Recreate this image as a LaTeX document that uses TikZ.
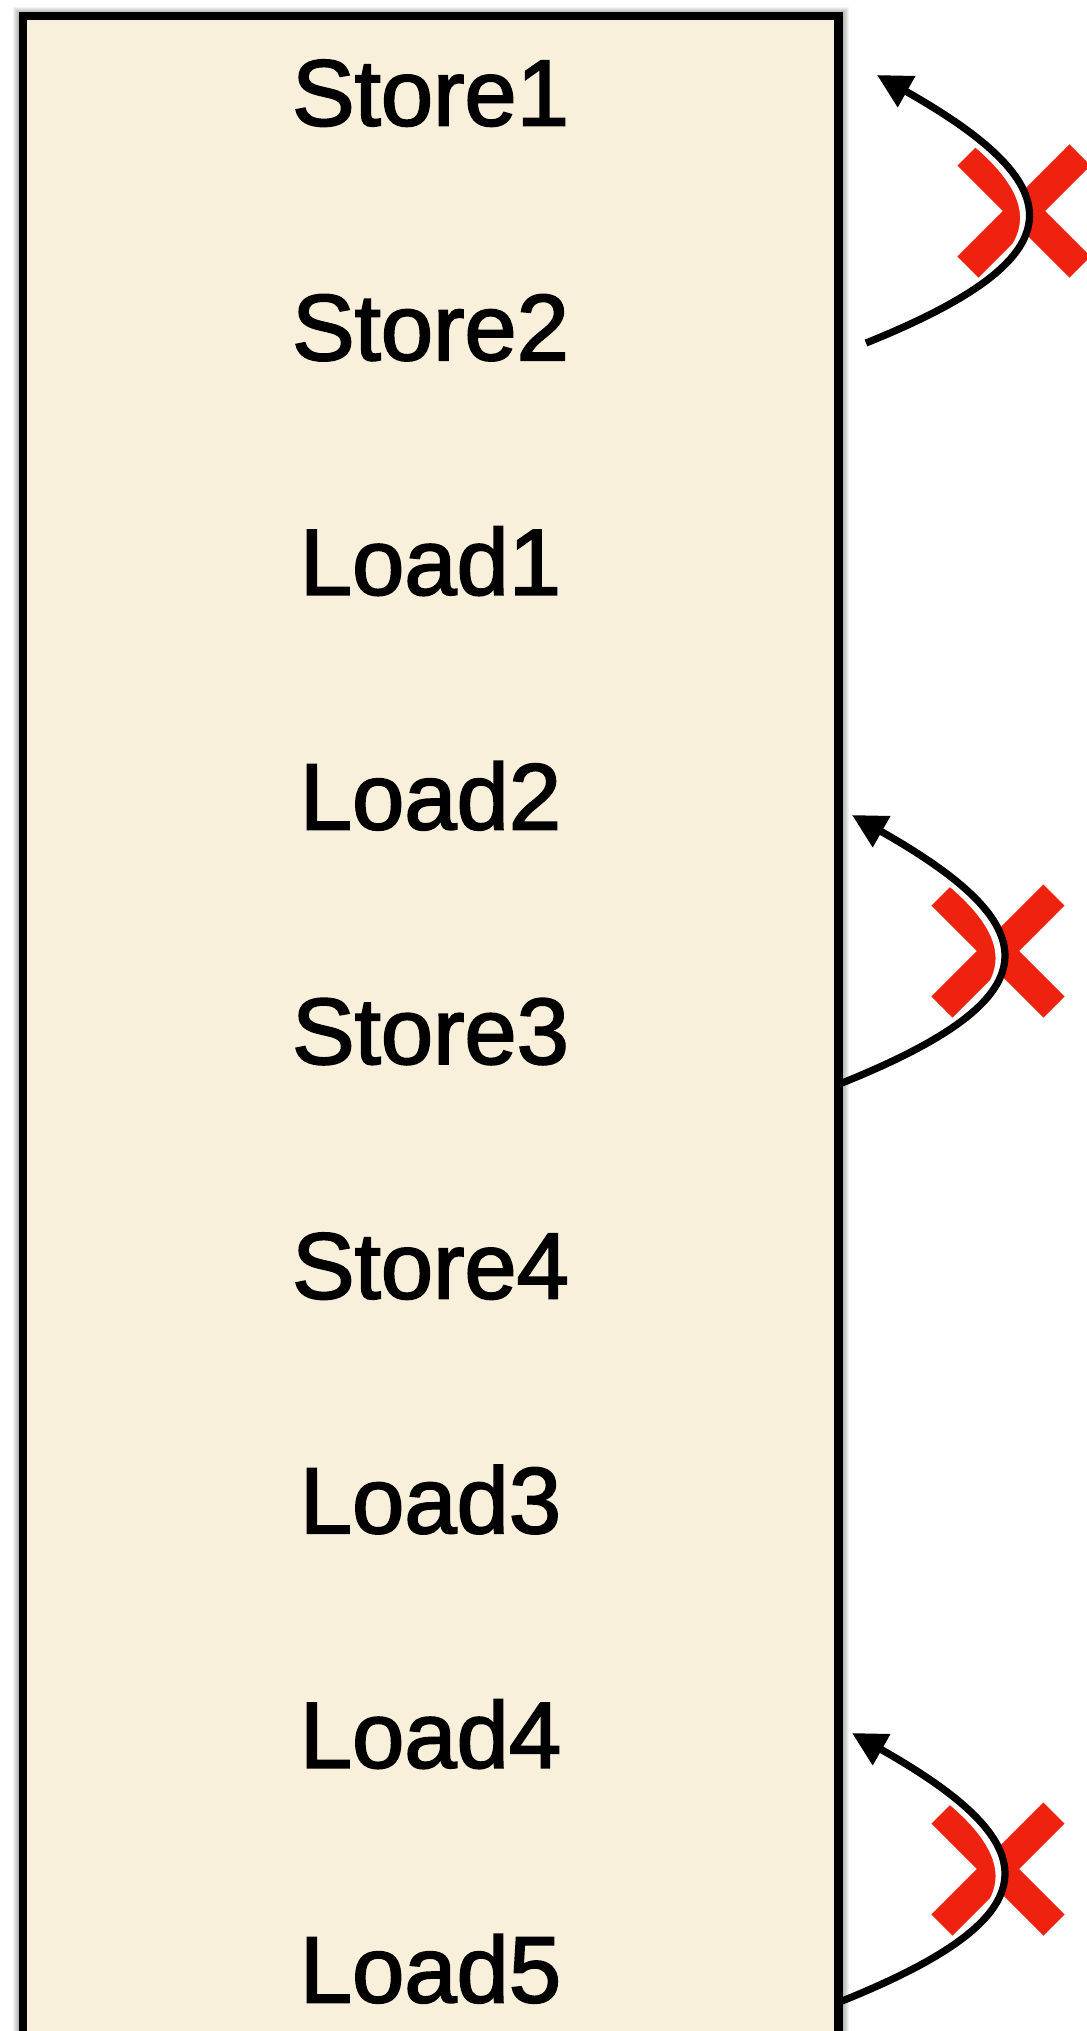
\documentclass[tikz,border=0pt]{standalone}
\usepackage{fontspec}
\setmainfont{Liberation Sans}
\newfontfamily\lblfont[RawFeature={embolden=2}]{Liberation Sans}
\usetikzlibrary{arrows.meta}
\definecolor{cream}{RGB}{249,240,219}
\definecolor{xred}{RGB}{238,34,14}
\begin{document}
\begin{tikzpicture}[x=0.5pt,y=-0.5pt,
  lbl/.style={anchor=base, font=\lblfont\fontsize{47}{56}\selectfont, inner sep=0pt},
  arr/.style={line width=3.6pt, -{Triangle[length=17pt,width=17pt]}},
  halo/.style={line width=5.6pt, white},
  xbar/.style={line width=15pt, xred},
  shade/.style={draw=black, draw opacity=0.05}]
\useasboundingbox (0,0) rectangle (1087,2031);
\clip (0,0) rectangle (1087,2031);
% box with soft shadow
\foreach \w in {5,6,7,8,9,10}
  \draw[shade, line width=\w pt] (23,17) rectangle (839,2120);
\draw[line width=4.2pt, fill=cream] (23,16) rectangle (838.5,2120);
% labels
\foreach \t [count=\i from 0] in {Store1,Store2,Load1,Load2,Store3,Store4,Load3,Load4,Load5}
  \node[lbl] (t\i) at (430.5,{125.5+234.6*\i}) {\t};
% X marks
\coordinate (x1) at (1024,211);
\coordinate (x2) at (998,951);
\coordinate (x3) at (998,1869);
\foreach \c in {x1,x2,x3}{
  \draw[xbar] (\c) ++(-56,-56) -- ++(112,112);
  \draw[xbar] (\c) ++(56,-56) -- ++(-112,112);
}
% arrows
\coordinate (a1s) at (866,343);  \coordinate (a1e) at (877,75);
\coordinate (a2s) at (842,1083); \coordinate (a2e) at (852,815);
\coordinate (a3s) at (842,2001); \coordinate (a3e) at (852,1733);
\begin{scope}
  \clip (900,0) rectangle (1087,2031);
  \foreach \a in {a1,a2,a3}
    \draw[halo] (\a s) .. controls ([shift={(211,-85)}]\a s) and ([shift={(200,113)}]\a e) .. (\a e);
\end{scope}
\foreach \a in {a1,a2,a3}
  \draw[arr] (\a s) .. controls ([shift={(211,-85)}]\a s) and ([shift={(200,113)}]\a e) .. (\a e);
\end{tikzpicture}
\end{document}
